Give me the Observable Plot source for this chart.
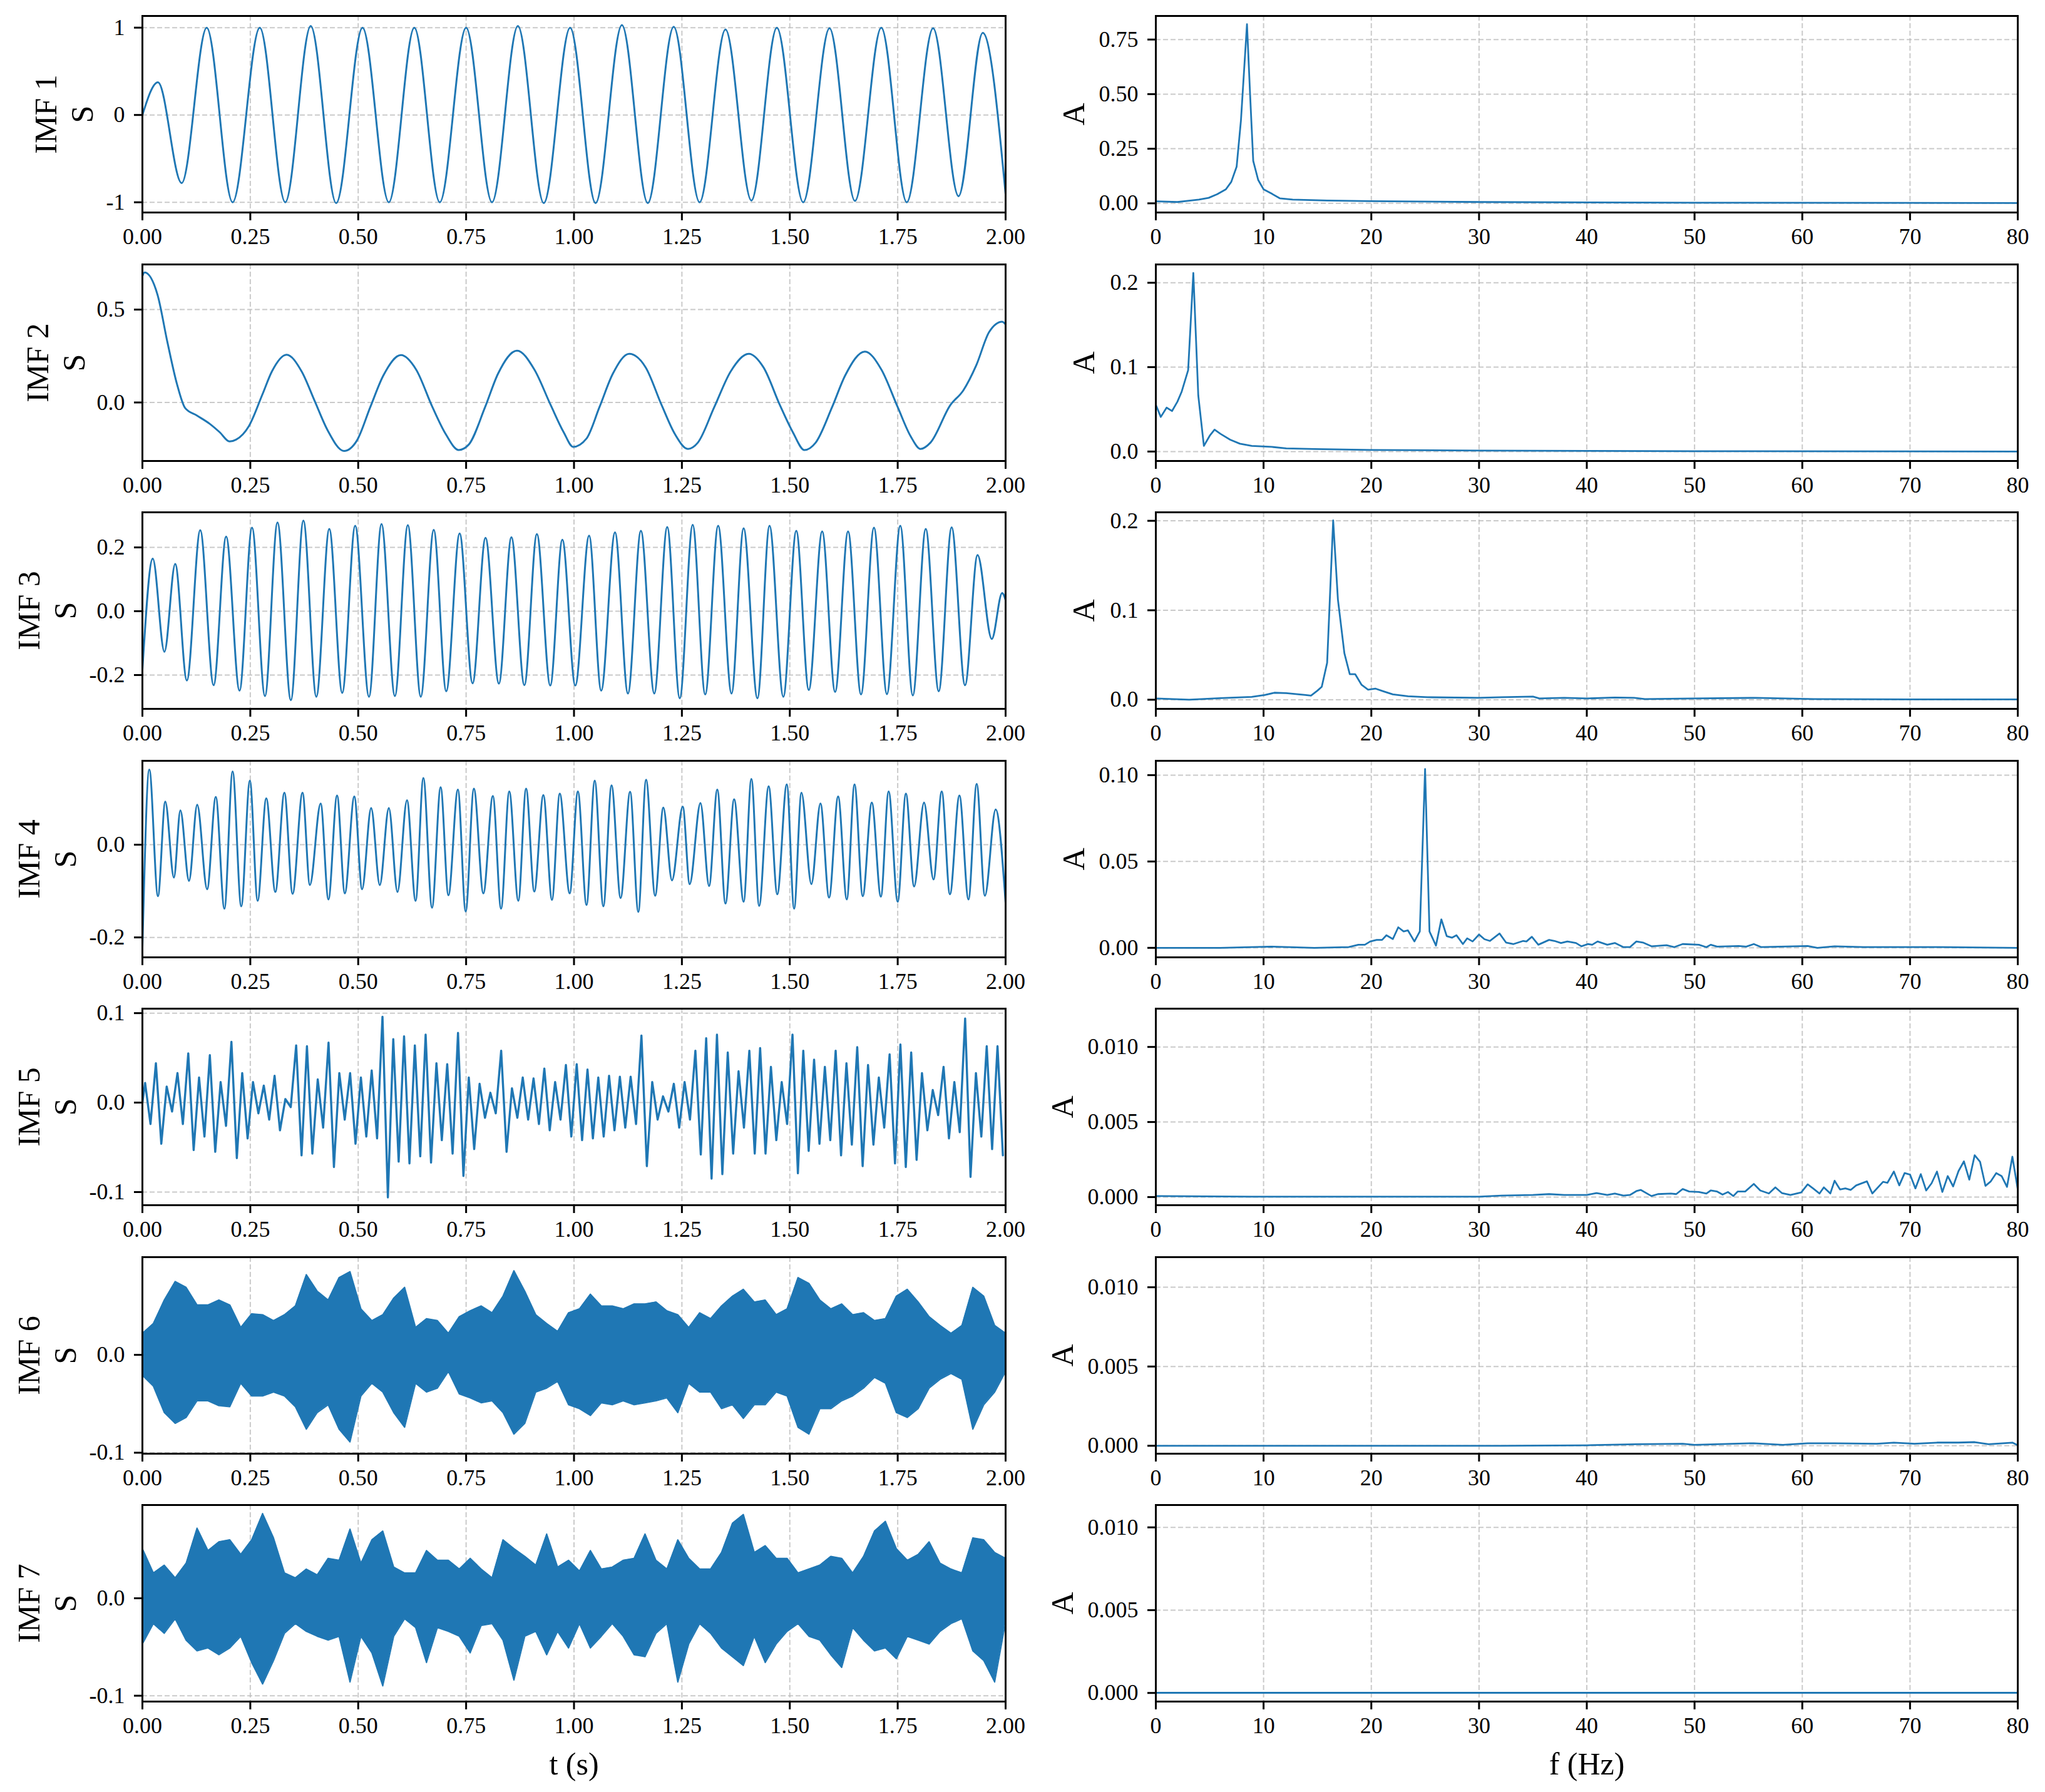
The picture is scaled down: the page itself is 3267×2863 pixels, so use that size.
<!DOCTYPE html>
<html>
<head>
<meta charset="utf-8">
<script src="https://cdn.jsdelivr.net/npm/d3@7"></script>
<script src="https://cdn.jsdelivr.net/npm/@observablehq/plot@0.6"></script>
<style>
  html, body { margin: 0; padding: 0; background: #fff; }
  #chart { position: relative; width: 3267px; height: 2863px; background: #fff; overflow: hidden; }
  #chart svg { position: absolute; overflow: visible; }
</style>
</head>
<body>
<div id="chart"></div>
<script>
// ---------------- DATA ----------------
// IMF 1 – extrema of the oscillation (t in s, value)
const imf1T = [0, 0.036, 0.091, 0.149, 0.209, 0.272, 0.331, 0.390, 0.449, 0.510, 0.571, 0.630, 0.689, 0.750, 0.810, 0.870, 0.930, 0.991, 1.050, 1.111, 1.171, 1.231, 1.291, 1.351, 1.411, 1.470, 1.531, 1.592, 1.651, 1.712, 1.771, 1.832, 1.891, 1.947, 2.0];
const imf1V = [0, 0.375, -0.78, 1.0, -1.0, 1.0, -1.0, 1.02, -1.01, 1.0, -1.0, 1.0, -1.0, 1.0, -1.0, 1.02, -1.01, 1.0, -1.01, 1.03, -1.01, 1.01, -1.0, 0.98, -0.98, 1.0, -1.0, 0.995, -0.985, 1.0, -1.0, 0.995, -0.93, 0.94, -0.91];

// IMF 2
const imf2T = [0, 0.005, 0.035, 0.058, 0.080, 0.099, 0.126, 0.156, 0.179, 0.202, 0.217, 0.247, 0.278, 0.300, 0.334, 0.369, 0.399, 0.429, 0.467, 0.497, 0.528, 0.558, 0.599, 0.634, 0.672, 0.703, 0.733, 0.756, 0.794, 0.824, 0.868, 0.908, 0.946, 0.976, 0.998, 1.029, 1.059, 1.090, 1.128, 1.166, 1.203, 1.234, 1.264, 1.287, 1.325, 1.363, 1.405, 1.439, 1.477, 1.507, 1.534, 1.560, 1.598, 1.628, 1.674, 1.712, 1.750, 1.780, 1.803, 1.826, 1.872, 1.902, 1.932, 1.962, 1.992, 2.0];
const imf2V = [0.68, 0.70, 0.58, 0.324, 0.10, -0.03, -0.07, -0.115, -0.16, -0.21, -0.20, -0.126, 0.043, 0.167, 0.257, 0.167, 0.009, -0.149, -0.261, -0.205, -0.025, 0.144, 0.255, 0.178, -0.025, -0.171, -0.256, -0.227, -0.025, 0.155, 0.279, 0.178, -0.014, -0.16, -0.239, -0.194, -0.025, 0.155, 0.262, 0.189, -0.014, -0.171, -0.25, -0.216, -0.025, 0.167, 0.262, 0.189, -0.014, -0.16, -0.256, -0.216, -0.025, 0.144, 0.274, 0.178, -0.025, -0.182, -0.25, -0.216, -0.014, 0.065, 0.20, 0.38, 0.435, 0.42];

// IMF 3 – extrema
const imf3T = [0, 0.024, 0.051, 0.076, 0.103, 0.134, 0.165, 0.194, 0.225, 0.254, 0.284, 0.313, 0.344, 0.373, 0.403, 0.433, 0.463, 0.493, 0.525, 0.554, 0.585, 0.615, 0.645, 0.675, 0.704, 0.735, 0.765, 0.795, 0.826, 0.855, 0.885, 0.914, 0.945, 0.973, 1.003, 1.035, 1.063, 1.095, 1.125, 1.155, 1.186, 1.216, 1.245, 1.275, 1.304, 1.334, 1.365, 1.393, 1.425, 1.453, 1.485, 1.515, 1.544, 1.575, 1.605, 1.635, 1.665, 1.695, 1.725, 1.756, 1.785, 1.815, 1.845, 1.875, 1.906, 1.935, 1.968, 1.992, 2.0];
const imf3V = [-0.184, 0.165, -0.127, 0.148, -0.217, 0.254, -0.232, 0.234, -0.249, 0.262, -0.266, 0.278, -0.279, 0.284, -0.268, 0.258, -0.256, 0.268, -0.268, 0.273, -0.266, 0.27, -0.268, 0.255, -0.251, 0.244, -0.226, 0.23, -0.227, 0.232, -0.232, 0.242, -0.233, 0.224, -0.233, 0.237, -0.249, 0.247, -0.258, 0.252, -0.258, 0.264, -0.273, 0.271, -0.261, 0.268, -0.258, 0.26, -0.273, 0.268, -0.268, 0.252, -0.247, 0.25, -0.253, 0.25, -0.261, 0.262, -0.26, 0.268, -0.264, 0.258, -0.251, 0.263, -0.232, 0.176, -0.087, 0.057, 0.035];

// IMF 4 – extrema
const imf4T = [0, 0.016, 0.036, 0.053, 0.073, 0.088, 0.108, 0.127, 0.150, 0.170, 0.190, 0.209, 0.229, 0.249, 0.267, 0.287, 0.308, 0.329, 0.348, 0.371, 0.388, 0.413, 0.431, 0.451, 0.469, 0.491, 0.509, 0.530, 0.550, 0.571, 0.591, 0.613, 0.633, 0.651, 0.671, 0.691, 0.709, 0.731, 0.749, 0.768, 0.790, 0.812, 0.831, 0.850, 0.871, 0.889, 0.908, 0.929, 0.949, 0.967, 0.990, 1.009, 1.029, 1.048, 1.068, 1.087, 1.108, 1.130, 1.149, 1.167, 1.188, 1.207, 1.227, 1.252, 1.268, 1.293, 1.313, 1.332, 1.351, 1.371, 1.393, 1.411, 1.429, 1.451, 1.471, 1.493, 1.510, 1.527, 1.550, 1.571, 1.591, 1.612, 1.632, 1.650, 1.669, 1.690, 1.711, 1.729, 1.750, 1.769, 1.788, 1.811, 1.833, 1.852, 1.871, 1.893, 1.914, 1.933, 1.952, 1.977, 2.0];
const imf4V = [-0.223, 0.162, -0.111, 0.093, -0.071, 0.074, -0.078, 0.086, -0.096, 0.103, -0.138, 0.158, -0.133, 0.138, -0.121, 0.100, -0.102, 0.112, -0.106, 0.112, -0.087, 0.089, -0.118, 0.106, -0.105, 0.104, -0.096, 0.079, -0.087, 0.079, -0.102, 0.096, -0.121, 0.144, -0.136, 0.124, -0.109, 0.119, -0.144, 0.121, -0.105, 0.105, -0.138, 0.115, -0.121, 0.121, -0.101, 0.107, -0.119, 0.110, -0.105, 0.115, -0.130, 0.138, -0.133, 0.128, -0.115, 0.114, -0.145, 0.140, -0.110, 0.080, -0.077, 0.082, -0.085, 0.090, -0.089, 0.119, -0.127, 0.098, -0.123, 0.142, -0.132, 0.126, -0.107, 0.130, -0.138, 0.112, -0.085, 0.089, -0.114, 0.104, -0.118, 0.130, -0.111, 0.091, -0.112, 0.115, -0.123, 0.110, -0.090, 0.091, -0.075, 0.115, -0.107, 0.106, -0.118, 0.131, -0.110, 0.076, -0.126];

// IMF 5 – spike tops / bottoms, one pair per 0.025 s
const imf5Hi = [0.022, 0.044, 0.018, 0.033, 0.055, 0.028, 0.053, 0.023, 0.068, 0.033, 0.023, 0.019, 0.030, 0.004, 0.064, 0.063, 0.026, 0.067, 0.033, 0.033, 0.028, 0.036, 0.096, 0.071, 0.074, 0.064, 0.076, 0.044, 0.043, 0.078, 0.028, 0.021, 0.011, 0.058, 0.016, 0.028, 0.027, 0.038, 0.023, 0.042, 0.043, 0.037, 0.028, 0.030, 0.029, 0.029, 0.075, 0.023, 0.007, 0.021, 0.023, 0.058, 0.072, 0.076, 0.056, 0.035, 0.058, 0.061, 0.040, 0.023, 0.076, 0.058, 0.048, 0.040, 0.058, 0.044, 0.062, 0.042, 0.028, 0.054, 0.065, 0.056, 0.033, 0.014, 0.040, 0.023, 0.094, 0.033, 0.063, 0.063];
const imf5Lo = [-0.024, -0.046, -0.010, -0.024, -0.053, -0.038, -0.055, -0.026, -0.062, -0.040, -0.012, -0.019, -0.031, -0.005, -0.059, -0.057, -0.028, -0.072, -0.019, -0.046, -0.038, -0.040, -0.106, -0.066, -0.068, -0.060, -0.067, -0.042, -0.057, -0.082, -0.052, -0.017, -0.012, -0.055, -0.017, -0.019, -0.024, -0.031, -0.019, -0.038, -0.042, -0.040, -0.038, -0.031, -0.028, -0.024, -0.071, -0.019, -0.010, -0.028, -0.019, -0.058, -0.085, -0.080, -0.057, -0.028, -0.057, -0.057, -0.042, -0.024, -0.079, -0.054, -0.046, -0.042, -0.059, -0.047, -0.071, -0.047, -0.028, -0.068, -0.072, -0.064, -0.031, -0.014, -0.040, -0.033, -0.083, -0.038, -0.052, -0.059];

// IMF 6 – upper / lower envelope of the dense band
const imf6Hi = [0.022, 0.032, 0.056, 0.075, 0.069, 0.051, 0.051, 0.056, 0.051, 0.028, 0.042, 0.041, 0.035, 0.041, 0.050, 0.082, 0.065, 0.056, 0.079, 0.085, 0.047, 0.035, 0.041, 0.058, 0.069, 0.028, 0.037, 0.035, 0.022, 0.039, 0.045, 0.050, 0.043, 0.060, 0.086, 0.065, 0.041, 0.032, 0.024, 0.043, 0.047, 0.062, 0.050, 0.050, 0.047, 0.052, 0.052, 0.054, 0.045, 0.041, 0.028, 0.043, 0.037, 0.050, 0.060, 0.067, 0.054, 0.056, 0.041, 0.047, 0.079, 0.073, 0.056, 0.047, 0.052, 0.041, 0.043, 0.035, 0.037, 0.060, 0.067, 0.054, 0.039, 0.030, 0.022, 0.030, 0.069, 0.060, 0.030, 0.022];
const imf6Lo = [-0.021, -0.032, -0.059, -0.070, -0.064, -0.047, -0.047, -0.052, -0.053, -0.029, -0.042, -0.042, -0.038, -0.042, -0.053, -0.076, -0.059, -0.051, -0.076, -0.089, -0.042, -0.029, -0.038, -0.059, -0.074, -0.029, -0.038, -0.034, -0.017, -0.040, -0.044, -0.049, -0.047, -0.059, -0.081, -0.070, -0.038, -0.034, -0.027, -0.051, -0.055, -0.062, -0.049, -0.051, -0.047, -0.051, -0.049, -0.047, -0.044, -0.059, -0.029, -0.038, -0.038, -0.055, -0.051, -0.065, -0.051, -0.051, -0.038, -0.042, -0.074, -0.081, -0.055, -0.055, -0.047, -0.042, -0.034, -0.023, -0.029, -0.059, -0.064, -0.055, -0.034, -0.025, -0.019, -0.025, -0.076, -0.051, -0.038, -0.017];

// IMF 7 – upper / lower envelope
const imf7Hi = [0.051, 0.026, 0.034, 0.021, 0.036, 0.072, 0.049, 0.058, 0.060, 0.045, 0.060, 0.087, 0.062, 0.026, 0.021, 0.030, 0.024, 0.041, 0.039, 0.071, 0.036, 0.060, 0.069, 0.032, 0.026, 0.026, 0.049, 0.039, 0.039, 0.030, 0.041, 0.030, 0.021, 0.060, 0.051, 0.043, 0.034, 0.066, 0.032, 0.039, 0.028, 0.049, 0.030, 0.032, 0.039, 0.041, 0.066, 0.039, 0.030, 0.060, 0.041, 0.030, 0.030, 0.047, 0.077, 0.086, 0.047, 0.054, 0.041, 0.041, 0.026, 0.030, 0.034, 0.043, 0.041, 0.026, 0.043, 0.069, 0.079, 0.051, 0.039, 0.045, 0.058, 0.036, 0.030, 0.026, 0.062, 0.060, 0.047, 0.041];
const imf7Lo = [-0.047, -0.026, -0.036, -0.021, -0.043, -0.054, -0.051, -0.058, -0.051, -0.039, -0.066, -0.088, -0.064, -0.036, -0.026, -0.034, -0.039, -0.043, -0.039, -0.086, -0.039, -0.056, -0.090, -0.039, -0.021, -0.030, -0.066, -0.030, -0.034, -0.039, -0.056, -0.028, -0.026, -0.043, -0.084, -0.039, -0.034, -0.058, -0.034, -0.051, -0.026, -0.051, -0.039, -0.026, -0.039, -0.058, -0.060, -0.036, -0.026, -0.086, -0.047, -0.026, -0.036, -0.051, -0.060, -0.069, -0.039, -0.066, -0.047, -0.034, -0.026, -0.039, -0.043, -0.058, -0.071, -0.030, -0.043, -0.054, -0.051, -0.062, -0.039, -0.043, -0.047, -0.034, -0.026, -0.021, -0.054, -0.064, -0.086, -0.024];

// Spectra (f in Hz, amplitude A)
const spec1F = [0, 2.0, 3.1, 4.0, 4.9, 5.7, 6.5, 7.0, 7.5, 7.9, 8.46, 8.75, 9.04, 9.5, 10.0, 10.8, 11.5, 12.7, 15.9, 19.9, 30, 40, 50, 80];
const spec1A = [0.009, 0.006, 0.012, 0.017, 0.025, 0.042, 0.064, 0.098, 0.168, 0.38, 0.82, 0.497, 0.194, 0.107, 0.064, 0.043, 0.023, 0.017, 0.013, 0.010, 0.006, 0.004, 0.003, 0.0015];
const spec2F = [0, 0.46, 1.0, 1.5, 2.0, 2.4, 3.0, 3.48, 3.94, 4.46, 5.0, 5.45, 6.0, 6.9, 7.8, 8.9, 10.7, 12.1, 14.7, 19.9, 30, 40, 50, 80];
const spec2A = [0.0553, 0.041, 0.052, 0.048, 0.059, 0.071, 0.0965, 0.2116, 0.0665, 0.0067, 0.0187, 0.026, 0.021, 0.014, 0.0093, 0.0067, 0.0056, 0.0037, 0.003, 0.0019, 0.0011, 0.0007, 0.0004, 0.0];
const spec3F = [0, 3.1, 6.0, 8.9, 10.1, 11.0, 12.1, 13.3, 13.9, 14.4, 15.0, 15.4, 15.9, 16.46, 16.9, 17.5, 18.0, 18.5, 19.1, 19.7, 20.4, 21.1, 22.0, 23.4, 25.2, 30, 32.1, 35.0, 35.6, 37.9, 40, 42.6, 44.4, 45.4, 50, 55.6, 61.1, 69.8, 80];
const spec3A = [0.0014, 0.0, 0.0018, 0.0032, 0.0053, 0.0078, 0.0074, 0.006, 0.0053, 0.0046, 0.0102, 0.0145, 0.0413, 0.2004, 0.112, 0.052, 0.0286, 0.0286, 0.0166, 0.0113, 0.0124, 0.0095, 0.006, 0.0039, 0.0028, 0.0021, 0.0028, 0.0035, 0.0014, 0.0021, 0.0014, 0.0025, 0.0021, 0.0007, 0.0014, 0.0021, 0.0007, 0.0004, 0.0004];
const spec4F = [0, 6, 10.7, 14.7, 17.9, 18.8, 19.4, 19.9, 20.5, 21.0, 21.4, 22.0, 22.5, 23.0, 23.4, 24.0, 24.5, 24.99, 25.4, 26.0, 26.5, 27.0, 27.5, 27.9, 28.5, 28.9, 29.4, 30.0, 30.5, 31.0, 31.9, 32.5, 33.2, 34.1, 34.4, 34.9, 35.5, 36.5, 37.0, 37.6, 38.2, 39.0, 39.5, 40.1, 40.5, 41.0, 41.9, 42.6, 43.4, 44.0, 44.6, 45.2, 46.0, 47.4, 48.1, 48.9, 50.4, 51.1, 51.5, 52.1, 54.1, 54.8, 55.5, 56.2, 60.5, 61.4, 63.0, 65.7, 72.7, 80];
const spec4A = [0, 0, 0.0007, 0, 0.0004, 0.0018, 0.0018, 0.0037, 0.0046, 0.0046, 0.0073, 0.0051, 0.0119, 0.0095, 0.0101, 0.0037, 0.0095, 0.1035, 0.0095, 0.0013, 0.0165, 0.0068, 0.0059, 0.0073, 0.0022, 0.0055, 0.0037, 0.0077, 0.005, 0.004, 0.0083, 0.0031, 0.0022, 0.004, 0.0037, 0.0064, 0.0018, 0.0046, 0.004, 0.0028, 0.0037, 0.0028, 0.0009, 0.0022, 0.0018, 0.0037, 0.0018, 0.0028, 0.0004, 0.0004, 0.0037, 0.0031, 0.0009, 0.0015, 0.0004, 0.0022, 0.0018, 0.0004, 0.0018, 0.0007, 0.0011, 0.0007, 0.0022, 0.0004, 0.0011, 0, 0.0009, 0.0004, 0.0004, 0];
const spec5F = [0, 8.9, 30, 32.1, 35.0, 36.5, 37.9, 40, 40.9, 41.9, 42.6, 43.4, 44.0, 44.6, 45.0, 46.0, 46.6, 47.8, 48.3, 48.9, 49.5, 50.4, 51.1, 51.5, 52.1, 52.6, 53.1, 53.6, 54.0, 54.7, 55.5, 56.1, 56.9, 57.5, 58.1, 58.9, 59.9, 60.5, 61.0, 61.6, 62.0, 62.6, 63.0, 63.5, 64.0, 64.5, 65.0, 66.0, 66.5, 67.5, 67.9, 68.5, 69.0, 69.5, 70.0, 70.5, 71.0, 71.5, 72.0, 72.5, 73.0, 73.5, 74.0, 74.5, 75.0, 75.5, 76.0, 76.5, 77.0, 77.5, 78.0, 78.5, 79.0, 79.5, 80];
const spec5A = [0.00007, 0.00003, 0.00003, 0.0001, 0.00014, 0.0002, 0.00014, 0.00014, 0.00027, 0.00014, 0.00024, 0.0001, 0.00014, 0.0004, 0.00048, 0.00007, 0.0002, 0.00024, 0.0002, 0.00054, 0.00037, 0.00034, 0.00024, 0.00044, 0.00037, 0.00017, 0.00034, 0.00007, 0.00037, 0.00037, 0.00088, 0.00044, 0.00024, 0.00065, 0.00027, 0.00014, 0.00031, 0.00085, 0.00058, 0.00024, 0.00065, 0.00024, 0.00109, 0.00051, 0.00058, 0.00048, 0.00078, 0.00105, 0.00024, 0.00102, 0.00095, 0.0017, 0.00078, 0.0016, 0.0015, 0.00058, 0.00153, 0.00044, 0.00092, 0.0017, 0.00034, 0.0014, 0.00071, 0.00173, 0.00238, 0.00116, 0.00279, 0.00235, 0.00075, 0.00105, 0.0016, 0.0014, 0.00068, 0.00269, 0.00051];
const spec6F = [0, 32, 40, 44.6, 48.9, 50, 55.5, 58.2, 60.5, 63, 66.9, 68.5, 70.4, 72.5, 74.5, 76, 77.3, 79.5, 80];
const spec6A = [0, 0, 0.00003, 0.0001, 0.00013, 0.00006, 0.00016, 0.00006, 0.00016, 0.00016, 0.00013, 0.0002, 0.00013, 0.0002, 0.0002, 0.00023, 0.0001, 0.0002, 0.00003];
const spec7F = [0, 20, 40, 60, 80];
const spec7A = [0.00001, 0.00001, 0.00001, 0.00001, 0.00001];

// Tick values
const tTicks = [0, 0.25, 0.5, 0.75, 1.0, 1.25, 1.5, 1.75, 2.0];
const fTicks = [0, 10, 20, 30, 40, 50, 60, 70, 80];
const leftYTicks = [[-1, 0, 1], [0, 0.5], [-0.2, 0, 0.2], [-0.2, 0], [-0.1, 0, 0.1], [-0.1, 0], [-0.1, 0]];
const rightYTicks = [[0, 0.25, 0.5, 0.75], [0, 0.1, 0.2], [0, 0.1, 0.2], [0, 0.05, 0.1], [0, 0.005, 0.01], [0, 0.005, 0.01], [0, 0.005, 0.01]];
const leftYDomains = [[-1.117, 1.134], [-0.315, 0.743], [-0.306, 0.31], [-0.243, 0.181], [-0.1147, 0.105], [-0.101, 0.0998], [-0.106, 0.0957]];
const rightYDomains = [[-0.042, 0.858], [-0.0112, 0.2217], [-0.0102, 0.2095], [-0.0055, 0.1083], [-0.00054, 0.01255], [-0.0005, 0.0119], [-0.00052, 0.01135]];
const imfLabels = ["IMF 1", "IMF 2", "IMF 3", "IMF 4", "IMF 5", "IMF 6", "IMF 7"];

// ---------------- BUILD TABLES ----------------
const zipTV = (T, V) => T.map((t, i) => ({t, v: V[i]}));
const imf1 = zipTV(imf1T, imf1V);
const imf2 = zipTV(imf2T, imf2V);
const imf3 = zipTV(imf3T, imf3V);
const imf4 = zipTV(imf4T, imf4V);
const imf5 = [{t: 0, v: 0}];
imf5Hi.forEach((h, i) => {
  imf5.push({t: 0.025 * i + 0.00625, v: h});
  imf5.push({t: 0.025 * i + 0.01875, v: imf5Lo[i]});
});
const band = (Hi, Lo) => Hi.map((h, i) => ({t: i * 2 / (Hi.length - 1), hi: h, lo: Lo[i]}));
const imf6 = band(imf6Hi, imf6Lo);
const imf7 = band(imf7Hi, imf7Lo);
const specs = [[spec1F, spec1A], [spec2F, spec2A], [spec3F, spec3A], [spec4F, spec4A], [spec5F, spec5A], [spec6F, spec6A], [spec7F, spec7A]]
  .map(([F, A]) => F.map((f, i) => ({f, a: A[i]})));

// ---------------- STYLE / LAYOUT ----------------
const BLUE = "#1f77b4";
const FONT = "'Liberation Serif', 'Times New Roman', Times, serif";
const FH = 314;             // frame height
const MT = 20, MB = 80, MB_LAST = 150;
const rowTop = i => 25 + 396.5 * i;
const hy = s => s.replace(/\u2212/g, "-");
const fmt = p => d => hy(d3.format(p)(d));
const leftYFmt = [d => String(d), fmt(".1f"), fmt(".1f"), fmt(".1f"), fmt(".1f"), fmt(".1f"), fmt(".1f")];
const rightYFmt = [fmt(".2f"), fmt(".1f"), fmt(".1f"), fmt(".2f"), fmt(".3f"), fmt(".3f"), fmt(".3f")];
const leftLabelDx = [-127, -140, -154, -154, -154, -154, -154];
const rightLabelDx = [-133, -117, -117, -133, -151, -151, -151];

function dataMarks(col, row) {
  const common = {stroke: BLUE, strokeWidth: 3, clip: true};
  if (col === 1) return [Plot.line(specs[row], {x: "f", y: "a", ...common, strokeWidth: 2.8})];
  switch (row) {
    case 0: return [Plot.line(imf1, {x: "t", y: "v", curve: "monotone-x", ...common})];
    case 1: return [Plot.line(imf2, {x: "t", y: "v", curve: "monotone-x", ...common})];
    case 2: return [Plot.line(imf3, {x: "t", y: "v", curve: "monotone-x", ...common})];
    case 3: return [Plot.line(imf4, {x: "t", y: "v", curve: "monotone-x", ...common})];
    case 4: return [Plot.line(imf5, {x: "t", y: "v", ...common, strokeWidth: 3.4})];
    case 5: return [Plot.areaY(imf6, {x: "t", y1: "lo", y2: "hi", fill: BLUE, clip: true}),
                    Plot.line(imf6, {x: "t", y: "hi", stroke: BLUE, strokeWidth: 2, clip: true}),
                    Plot.line(imf6, {x: "t", y: "lo", stroke: BLUE, strokeWidth: 2, clip: true})];
    case 6: return [Plot.areaY(imf7, {x: "t", y1: "lo", y2: "hi", fill: BLUE, clip: true}),
                    Plot.line(imf7, {x: "t", y: "hi", stroke: BLUE, strokeWidth: 2, clip: true}),
                    Plot.line(imf7, {x: "t", y: "lo", stroke: BLUE, strokeWidth: 2, clip: true})];
  }
}

function panel(col, row) {
  const last = row === 6;
  const mb = last ? MB_LAST : MB;
  const W = col === 0 ? 1640 : 1627;
  const ML = col === 0 ? 227 : 206;
  const MR = col === 0 ? 34 : 44;
  const xTicks = col === 0 ? tTicks : fTicks;
  const yTicks = col === 0 ? leftYTicks[row] : rightYTicks[row];
  const xFmt = col === 0 ? fmt(".2f") : (d => String(d));
  const yFmt = col === 0 ? leftYFmt[row] : rightYFmt[row];
  const label = col === 0 ? imfLabels[row] + "\nS" : "A";
  const labelDx = col === 0 ? leftLabelDx[row] : rightLabelDx[row];
  const gridStyle = {stroke: "#b8b8b8", strokeOpacity: 0.75, strokeWidth: 2, strokeDasharray: "8,4"};
  const chart = Plot.plot({
    width: W,
    height: MT + FH + mb,
    marginTop: MT, marginBottom: mb, marginLeft: ML, marginRight: MR,
    style: {fontFamily: FONT, fontSize: "36px", background: "transparent", color: "black"},
    x: {domain: col === 0 ? [0, 2] : [0, 80]},
    y: {domain: col === 0 ? leftYDomains[row] : rightYDomains[row]},
    marks: [
      Plot.gridX(xTicks, gridStyle),
      Plot.gridY(yTicks, gridStyle),
      ...dataMarks(col, row),
      Plot.frame({stroke: "black", strokeWidth: 3}),
      Plot.axisX(xTicks, {anchor: "bottom", tickFormat: xFmt, tickSize: 13, tickPadding: 12, strokeWidth: 3, fontSize: 36, label: null}),
      Plot.axisY(yTicks, {anchor: "left", tickFormat: yFmt, tickSize: 13, tickPadding: 15, strokeWidth: 3, fontSize: 36, label: null}),
      Plot.text([label], {text: d => d, frameAnchor: "left", dx: labelDx, rotate: -90, fontSize: 50, lineHeight: 1.16, lineAnchor: "middle", textAnchor: "middle", fill: "black"}),
      last ? Plot.text([col === 0 ? "t (s)" : "f (Hz)"], {text: d => d, frameAnchor: "bottom", dy: 100, fontSize: 50, lineAnchor: "middle", fill: "black"}) : null
    ]
  });
  chart.style.left = (col === 0 ? 0 : 1640) + "px";
  chart.style.top = (rowTop(row) - MT) + "px";
  document.getElementById("chart").append(chart);
}

for (let row = 0; row < 7; row++) {
  panel(0, row);
  panel(1, row);
}
</script>
</body>
</html>
